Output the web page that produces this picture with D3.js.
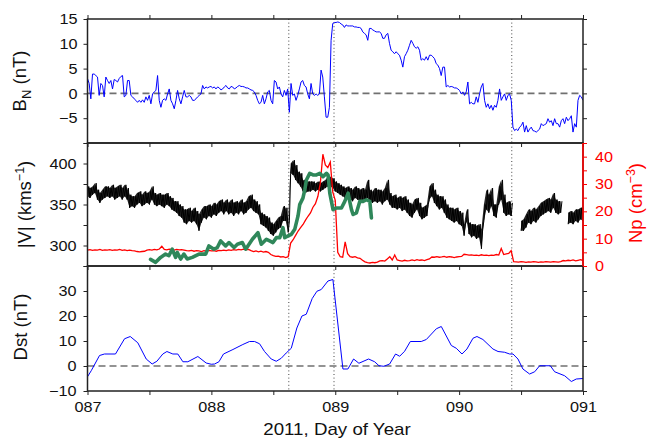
<!DOCTYPE html>
<html><head><meta charset="utf-8">
<script src="https://cdn.jsdelivr.net/npm/d3@7"></script>
<style>body{margin:0;background:#fff;} svg{display:block;font-family:"Liberation Sans",Arial,Helvetica,sans-serif;}</style>
</head><body><svg id="c" width="647" height="439"></svg>
<script>
// ---------------- DATA ----------------
const xDomain = [87, 91];
const xTickLabels = ["087", "088", "089", "090", "091"];
const eventDays = [88.625, 88.99, 90.425];

// B_N (nT), evenly sampled from day 87 to day 91
const bnStart = 87, bnEnd = 91;
const bnValues = [
 3.0,2.0,-1.1,3.9,3.9,3.6,3.3,-0.4,2.0,1.6,
 -0.7,3.3,2.6,2.0,2.6,0.9,2.8,2.6,2.3,3.0,
 3.4,3.6,-0.7,-0.4,2.6,2.6,-0.4,-0.7,-1.1,-1.4,
 -1.8,-1.4,-1.8,-1.3,-1.8,-0.7,-1.4,-0.4,-2.1,-0.1,
 0.3,0.6,3.6,-1.4,-2.8,-1.4,-1.1,-1.4,-0.1,0.9,
 -1.4,-2.1,-3.1,-1.4,0.6,-1.1,-2.1,-0.7,0.6,-0.7,
 -0.7,-0.4,-0.7,-1.4,-1.4,-1.1,-0.7,-0.4,-0.1,1.6,
 0.9,1.3,1.1,1.3,1.4,1.1,1.3,0.9,1.3,1.1,
 0.7,0.9,1.3,1.6,1.1,0.9,1.4,1.3,0.9,1.1,
 1.4,1.6,1.4,1.4,1.3,1.1,1.1,0.9,0.7,0.6,
 0.3,-0.4,-1.4,-2.1,-1.8,-0.4,-2.1,-1.1,0.3,0.6,
 -1.4,-2.1,2.6,2.3,0.9,1.3,-0.1,-0.7,0.6,-0.4,
 0.9,-3.8,2.0,-0.4,-0.1,-1.4,-0.4,0.9,2.3,2.6,
 1.6,1.3,-0.1,-1.1,2.0,-0.1,-0.4,-0.1,-0.4,-0.1,
 4.7,3.3,-0.7,-4.8,-4.8,-2.8,10.7,14.1,14.3,14.3,
 14.4,14.3,14.0,13.8,13.3,13.8,13.6,13.6,13.6,13.6,
 13.4,13.4,13.3,13.3,13.1,12.4,12.1,11.8,10.7,13.1,
 13.1,12.8,12.6,12.4,12.4,12.4,12.1,11.1,11.1,11.8,
 12.1,10.1,8.7,8.4,8.0,8.4,8.0,7.7,6.7,5.3,
 7.4,8.0,8.7,9.7,10.7,10.1,9.4,9.1,9.4,8.7,
 6.7,7.0,6.7,7.4,6.7,7.7,7.7,7.4,7.0,6.0,
 5.7,5.0,3.6,5.3,5.3,1.3,1.6,1.3,1.4,1.3,
 1.1,1.1,0.9,0.6,-0.1,0.3,-0.4,0.3,2.3,-2.1,
 -1.8,-2.1,-2.1,-0.7,-1.8,-0.1,1.3,2.0,-1.4,-2.8,
 -2.1,-3.1,-2.4,-3.4,-2.4,-2.8,-1.4,0.9,-1.4,-0.7,
 -0.1,-1.4,-0.4,-0.1,-1.4,-6.8,-7.5,-7.2,-7.5,-6.8,
 -6.5,-5.8,-7.8,-6.5,-7.8,-7.2,-6.8,-7.5,-7.6,-7.8,
 -7.5,-7.2,-6.1,-6.5,-6.3,-6.1,-5.1,-5.8,-5.5,-6.5,
 -5.1,-6.1,-6.1,-6.8,-5.5,-5.1,-6.1,-4.8,-5.5,-5.1,
 -4.5,-7.8,-6.1,-6.8,-1.4,-0.4,-0.7,-1.4
];

// |V| (km/s): lower and upper edge of the noisy trace every 0.02 day (null = data gap)
const vStart = 87, vStep = 0.02;
const vLow = [
 360,358,362,364,356,352,356,358,360,358,
 360,356,358,360,356,360,356,346,348,346,
 350,352,348,350,352,350,356,350,348,350,
 348,346,350,348,344,342,340,336,334,328,
 326,330,328,330,326,318,328,334,332,336,
 334,338,336,340,342,338,342,338,340,336,
 340,338,342,338,340,344,346,342,340,338,
 326,324,322,318,314,312,316,320,322,330,
 330,316,388,386,380,376,372,366,364,366,
 366,368,366,368,366,368,370,372,372,370,
 366,364,362,360,358,358,356,354,358,356,
 354,356,354,358,354,352,354,352,354,350,
 354,356,350,346,346,344,346,342,344,340,
 336,334,340,344,336,332,334,336,356,360,
 352,348,344,346,340,334,332,330,328,330,
 326,324,312,330,314,310,312,308,310,296,
 330,344,340,348,336,334,350,356,340,336,
 338,336,null,null,null,318,318,322,328,326,
 330,328,332,336,338,340,342,340,346,340,
 338,340,null,null,326,328,326,330,328,332,
 330
];
const vHigh = [
 372,370,372,376,368,364,368,372,372,370,
 374,370,372,374,370,374,370,362,360,360,
 364,366,362,366,364,366,372,364,362,364,
 362,362,364,360,358,354,354,350,348,344,
 344,346,342,346,342,338,344,348,348,350,
 348,352,350,354,356,352,356,352,356,352,
 354,352,356,352,354,360,362,356,354,350,
 340,338,336,334,328,326,330,334,336,348,
 346,330,400,404,398,390,388,380,378,378,
 378,378,376,378,376,378,380,384,384,382,
 378,376,374,372,370,372,370,368,372,370,
 368,370,368,380,368,366,370,368,368,366,
 370,380,364,360,362,358,360,358,360,356,
 352,350,356,358,352,346,348,350,372,376,
 368,362,360,360,356,350,346,346,344,346,
 342,340,326,344,328,326,326,324,326,320,
 350,368,362,370,350,350,372,380,362,352,
 354,352,null,null,null,330,332,338,344,342,
 346,344,348,352,354,356,358,356,364,356,
 354,354,null,null,340,342,340,344,344,346,
 346
];

// Np (cm^-3) every 0.02 day
const npStart = 87, npStep = 0.02;
const npValues = [
 5.8,6.0,5.7,5.9,5.8,6.1,5.7,5.9,5.8,6.0,
 5.7,5.9,5.8,6.1,5.7,5.9,5.6,5.8,5.6,5.5,
 5.3,5.2,5.3,5.4,5.8,6.0,5.8,6.1,5.9,6.2,
 7.2,6.1,5.9,6.2,6.0,5.8,6.1,5.9,6.0,5.8,
 5.6,5.5,5.7,5.4,5.6,5.5,5.3,5.6,5.4,5.7,
 5.5,5.6,5.4,5.7,5.6,5.8,5.6,5.9,5.7,6.0,
 5.8,6.1,5.9,6.2,6.0,6.1,5.6,5.3,5.5,5.2,
 5.4,5.1,5.3,5.0,4.2,3.8,3.5,3.6,3.3,3.4,
 3.1,3.4,8.4,9.6,11.2,12.8,14.0,15.2,16.8,18.2,
 19.4,21.5,22.8,25.5,30.5,40.9,37.0,36.0,38.0,27.0,
 24.0,5.0,3.4,3.2,8.8,4.5,3.4,3.2,3.4,3.0,
 2.8,2.1,1.5,1.2,1.1,1.3,1.2,1.4,1.9,2.0,
 1.8,2.6,3.4,2.2,4.0,2.2,2.0,1.8,2.1,1.9,
 2.0,2.2,2.0,2.3,2.1,2.2,2.0,2.3,2.6,3.3,
 3.2,3.4,3.2,3.3,3.5,3.2,3.4,3.3,3.1,3.3,
 3.4,3.5,4.3,4.2,4.0,4.1,3.9,4.0,3.8,4.1,
 3.9,4.0,3.8,4.0,3.9,4.2,4.0,6.4,4.2,4.4,
 4.6,5.6,1.6,1.5,1.4,1.6,1.5,1.3,1.5,1.4,
 1.6,1.5,1.3,1.5,1.4,1.6,1.5,1.4,1.6,1.5,
 1.4,1.6,2.0,1.9,2.1,2.0,2.2,1.9,2.1,2.3,
 2.0
];

// second velocity trace (green, km/s)
const greenDays = [87.509,87.550,87.590,87.630,87.657,87.684,87.711,87.725,87.752,87.778,87.805,87.846,87.900,87.954,87.980,88.021,88.048,88.075,88.115,88.142,88.183,88.210,88.250,88.277,88.304,88.331,88.376,88.403,88.444,88.471,88.497,88.525,88.552,88.578,88.592,88.619,88.646,88.673,88.699,88.713,88.739,88.754,88.767,88.794,88.821,88.848,88.875,88.901,88.929,88.942,88.956,88.982,89.010,89.050,89.077,89.104,89.117,89.131,89.144,89.171,89.198,89.225,89.252,89.279,89.292];
const greenV = [283,279.5,285.5,289.5,287.5,295.5,285.5,291.5,283.5,289.5,283.5,285.5,289.5,289.5,299.5,295.5,297.5,305.6,299.5,303.6,297.5,301.6,303.6,295.5,301.6,307.6,315.7,301.6,307.6,305.6,303.6,309.6,309.6,321.7,309.6,311.6,313.6,319.7,335.8,349.8,357.8,367.9,379.9,388,386,386,388,384,388,386,363.9,343.8,345.8,345.8,353.8,363.9,353.8,343.8,337.8,339.8,353.8,353.8,355.8,353.8,333.7];

// Dst (nT)
const dstDays = [87.000,87.030,87.097,87.137,87.226,87.299,87.345,87.406,87.474,87.522,87.560,87.608,87.641,87.689,87.729,87.770,87.810,87.891,87.958,87.999,88.026,88.061,88.098,88.174,88.254,88.308,88.349,88.389,88.429,88.483,88.524,88.564,88.604,88.645,88.690,88.731,88.766,88.814,88.852,88.887,88.941,88.981,89.062,89.102,89.148,89.191,89.269,89.318,89.353,89.393,89.439,89.487,89.520,89.560,89.606,89.694,89.735,89.816,89.856,89.937,89.977,90.023,90.063,90.112,90.144,90.192,90.273,90.314,90.367,90.408,90.435,90.475,90.515,90.569,90.610,90.650,90.736,90.771,90.852,90.906,90.946,91.000];
const dstValues = [-4.3,-1.9,4.2,4.8,4.8,10.9,11.8,9.3,2.8,0.8,1.9,4.8,5.8,4.8,4.8,1.7,1.7,3.8,1.2,0.7,0.8,1.7,4.8,6.6,8.6,9.8,9.8,8.9,5.8,2.8,1.9,3.1,5.2,7.1,15.2,20.0,20.7,27.0,29.9,30.6,34.0,34.6,-1.2,-1.2,2.8,1.1,2.8,1.7,0.1,-0.1,0.8,4.8,3.9,5.9,9.8,9.8,10.6,14.9,15.8,8.2,7.1,4.8,6.8,11.1,11.8,10.6,6.8,5.8,5.5,4.8,4.8,2.8,-1.2,-3.2,-2.3,0.1,0.1,-2.3,-3.9,-6.2,-5.2,-5.0];

// ---------------- LAYOUT ----------------
const L = 87.5, R = 583;
const P = { top: [19, 143], mid: [143, 266], bot: [266, 391] };
const SX = 1.12; // horizontal stretch of tick labels
const FRAME = "#222";

const svg = d3.select("#c");
const x = d3.scaleLinear().domain(xDomain).range([L, R]);
const yB = d3.scaleLinear().domain([-10, 15]).range([P.top[1], P.top[0]]);
const yV = d3.scaleLinear().domain([275, 425]).range([P.mid[1], P.mid[0]]);
const yN = d3.scaleLinear().domain([0, 45]).range([P.mid[1], P.mid[0]]);
const yD = d3.scaleLinear().domain([-10, 40]).range([P.bot[1], P.bot[0]]);

const defs = svg.append("defs");
Object.entries(P).forEach(([k, [t, b]]) => {
  defs.append("clipPath").attr("id", "clip-" + k)
    .append("rect").attr("x", L).attr("y", t).attr("width", R - L).attr("height", b - t);
});

const fmt = d3.format("d");
const xTicks = d3.range(87, 91.001, 0.5);

function stretchText(g, color) {
  g.selectAll("text").each(function () {
    const t = d3.select(this);
    const xx = +t.attr("x") || 0;
    t.attr("x", xx / SX).attr("transform", `scale(${SX},1)`)
     .attr("fill", color || "#111").style("font-size", "14.5px")
     .style("font-family", '"Liberation Sans",Arial,sans-serif');
  });
}
function styleAxis(g, color) {
  g.select(".domain").remove();
  g.selectAll(".tick line").attr("stroke", color || FRAME).attr("stroke-width", 1);
  stretchText(g, color);
}

function panelBase(key) {
  const [t, b] = P[key];
  svg.append("g").selectAll("line").data(eventDays).join("line")
    .attr("x1", d => x(d)).attr("x2", d => x(d)).attr("y1", t).attr("y2", b)
    .attr("stroke", "#444").attr("stroke-width", 1).attr("stroke-dasharray", "1,2.6");
}

// ---- top panel: B_N ----
panelBase("top");
svg.append("line").attr("x1", L).attr("x2", R).attr("y1", yB(0)).attr("y2", yB(0))
  .attr("stroke", "#707070").attr("stroke-width", 1.6).attr("stroke-dasharray", "7,4");
const bnStep = (bnEnd - bnStart) / (bnValues.length - 1);
svg.append("path").attr("clip-path", "url(#clip-top)")
  .datum(bnValues.map((v, i) => [bnStart + i * bnStep, v]))
  .attr("fill", "none").attr("stroke", "#0000ff").attr("stroke-width", 1)
  .attr("d", d3.line().x(d => x(d[0])).y(d => yB(d[1])));

// ---- middle panel: |V|, Np ----
panelBase("mid");
const vBand = vLow.map((lo, i) => ({ t: vStart + i * vStep, lo, hi: vHigh[i] }));
svg.append("path").attr("clip-path", "url(#clip-mid)")
  .datum(vBand).attr("fill", "#000").attr("fill-opacity", 0.85)
  .attr("d", d3.area().defined(d => d.lo != null)
    .x(d => x(d.t)).y0(d => yV(d.lo)).y1(d => yV(d.hi)));
const vPts = [];
vBand.forEach(d => {
  vPts.push([d.t, d.lo]);
  vPts.push([d.t + vStep / 2, d.hi]);
});
svg.append("path").attr("clip-path", "url(#clip-mid)")
  .datum(vPts).attr("fill", "none").attr("stroke", "#000").attr("stroke-width", 1)
  .attr("d", d3.line().defined(d => d[1] != null).x(d => x(d[0])).y(d => yV(d[1])));
svg.append("path").attr("clip-path", "url(#clip-mid)")
  .datum(npValues.map((v, i) => [npStart + i * npStep, v]))
  .attr("fill", "none").attr("stroke", "#ff0000").attr("stroke-width", 1.3)
  .attr("d", d3.line().x(d => x(d[0])).y(d => yN(d[1])));
svg.append("path").attr("clip-path", "url(#clip-mid)")
  .datum(d3.zip(greenDays, greenV))
  .attr("fill", "none").attr("stroke", "#2f875a").attr("stroke-width", 3.6)
  .attr("stroke-linejoin", "round").attr("stroke-linecap", "round")
  .attr("d", d3.line().x(d => x(d[0])).y(d => yV(d[1])));

// ---- bottom panel: Dst ----
panelBase("bot");
svg.append("line").attr("x1", L).attr("x2", R).attr("y1", yD(0)).attr("y2", yD(0))
  .attr("stroke", "#707070").attr("stroke-width", 1.6).attr("stroke-dasharray", "7,4");
svg.append("path").attr("clip-path", "url(#clip-bot)")
  .datum(d3.zip(dstDays, dstValues))
  .attr("fill", "none").attr("stroke", "#0000ff").attr("stroke-width", 1)
  .attr("d", d3.line().x(d => x(d[0])).y(d => yD(d[1])));

// ---------------- AXES ----------------
svg.append("g").attr("transform", `translate(0,${P.top[0]})`)
  .call(d3.axisTop(x).tickValues(xTicks).tickSize(4).tickFormat("")).call(g => styleAxis(g));
["top", "mid"].forEach(k => {
  svg.append("g").attr("transform", `translate(0,${P[k][1]})`)
    .call(d3.axisBottom(x).tickValues(xTicks).tickSize(4).tickFormat("")).call(g => styleAxis(g));
});
svg.append("g").attr("transform", `translate(0,${P.bot[1]})`)
  .call(d3.axisBottom(x).tickValues(xTicks).tickSize(4).tickPadding(7)
    .tickFormat(d => Number.isInteger(d) ? xTickLabels[d - 87] : ""))
  .call(g => styleAxis(g));

svg.append("g").attr("transform", `translate(${L},0)`)
  .call(d3.axisLeft(yB).tickValues([-10, -5, 0, 5, 10, 15]).tickSize(4).tickPadding(6)
    .tickFormat(d => d === -10 ? "" : d3.format("d")(d)))
  .call(g => styleAxis(g));
svg.append("g").attr("transform", `translate(${L},0)`)
  .call(d3.axisLeft(yV).tickValues([275, 300, 325, 350, 375, 400, 425]).tickSize(4).tickPadding(7)
    .tickFormat(d => d % 50 === 0 ? fmt(d) : ""))
  .call(g => styleAxis(g));
svg.append("g").attr("transform", `translate(${L},0)`)
  .call(d3.axisLeft(yD).tickValues([-10, 0, 10, 20, 30, 40]).tickSize(4).tickPadding(7)
    .tickFormat(d => d === 40 ? "" : d3.format("d")(d)))
  .call(g => styleAxis(g));

svg.append("g").attr("transform", `translate(${R},0)`)
  .call(d3.axisRight(yB).tickValues([-10, -5, 0, 5, 10, 15]).tickSize(4).tickFormat(""))
  .call(g => styleAxis(g));
svg.append("g").attr("transform", `translate(${R},0)`)
  .call(d3.axisRight(yD).tickValues([-10, 0, 10, 20, 30, 40]).tickSize(4).tickFormat(""))
  .call(g => styleAxis(g));

Object.values(P).forEach(([t, b]) => {
  svg.append("rect").attr("x", L).attr("y", t).attr("width", R - L).attr("height", b - t)
    .attr("fill", "none").attr("stroke", FRAME).attr("stroke-width", 1.5);
});

const npAxis = svg.append("g").attr("transform", `translate(${R},0)`)
  .call(d3.axisRight(yN).tickValues(d3.range(0, 46, 5)).tickSize(4).tickPadding(8)
    .tickFormat(d => d % 10 === 0 ? fmt(d) : ""));
npAxis.select(".domain").remove();
npAxis.selectAll(".tick line").attr("stroke", "#ff0000").attr("stroke-width", 1);
stretchText(npAxis, "#ff0000");
svg.append("line").attr("x1", R).attr("x2", R).attr("y1", P.mid[0]).attr("y2", P.mid[1])
  .attr("stroke", "#ff0000").attr("stroke-width", 1.6);

// ---------------- LABELS ----------------
function rotLabel(cx, cy, color, parts) {
  const t = svg.append("text").attr("transform", `translate(${cx},${cy}) rotate(-90)`)
    .attr("text-anchor", "middle").attr("fill", color).style("font-size", "18.5px");
  parts.forEach(p => {
    const s = t.append("tspan").text(p.t);
    if (p.dy) s.attr("dy", p.dy);
    if (p.fs) s.style("font-size", p.fs);
  });
}
rotLabel(26, 81, "#111", [{ t: "B" }, { t: "N", dy: 5, fs: "13px" }, { t: " (nT)", dy: -5 }]);
rotLabel(30.5, 204.5, "#111", [{ t: "|V| (kms" }, { t: "−1", dy: -7, fs: "12.5px" }, { t: ")", dy: 7 }]);
rotLabel(26.5, 327, "#111", [{ t: "Dst (nT)" }]);
rotLabel(642, 203, "#ff0000", [{ t: "Np (cm" }, { t: "−3", dy: -7, fs: "12.5px" }, { t: ")", dy: 7 }]);

svg.append("text").attr("x", 337 / 1.17).attr("y", 435)
  .attr("transform", "scale(1.17,1)").attr("text-anchor", "middle")
  .attr("fill", "#111").style("font-size", "16px").text("2011, Day of Year");
</script>
</body></html>
